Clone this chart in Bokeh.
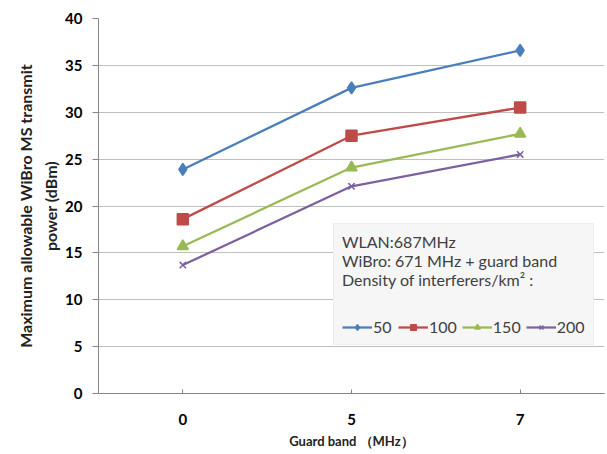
from bokeh.plotting import figure
from bokeh.models import FactorRange, Range1d, Legend, LegendItem, FixedTicker
from bokeh.embed import file_html
from bokeh.resources import INLINE

# Guard band categories (MHz) and max allowable transmit power (dBm) per interferer density
guard_band = ["0", "5", "7"]
density_labels = ["50", "100", "150", "200"]
power_50 = [23.9, 32.6, 36.6]
power_100 = [18.6, 27.5, 30.5]
power_150 = [15.7, 24.1, 27.7]
power_200 = [13.7, 22.1, 25.5]
y_ticks = [0, 5, 10, 15, 20, 25, 30, 35, 40]

FONT = "Lato"

p = figure(
    width=607, height=454,
    x_range=FactorRange(factors=guard_band),
    y_range=Range1d(0, 40),
    output_backend="svg", toolbar_location=None,
    min_border_left=98, min_border_right=3, min_border_top=18, min_border_bottom=61,
)
p.outline_line_color = None
p.background_fill_color = "white"
p.border_fill_color = "white"

# Axes
p.yaxis.ticker = FixedTicker(ticks=y_ticks)
p.yaxis.minor_tick_line_color = None
p.yaxis.major_tick_in = 0
p.yaxis.major_tick_out = 6
p.yaxis.major_label_standoff = 10
p.xaxis.major_tick_in = 4
p.xaxis.major_tick_out = 0
p.xaxis.major_label_standoff = 20
for ax in (p.xaxis, p.yaxis):
    ax.axis_line_color = "#868686"
    ax.major_tick_line_color = "#868686"
    ax.major_label_text_font = FONT
    ax.major_label_text_font_style = "bold"
    ax.major_label_text_font_size = "15px"
    ax.major_label_text_color = "black"
    ax.axis_label_text_font = FONT
    ax.axis_label_text_font_style = "bold"
    ax.axis_label_text_color = "#222222"

p.yaxis.axis_label = "Maximum allowable WiBro MS transmit\npower (dBm)"
p.yaxis.axis_label_text_font_size = "16px"
p.yaxis.axis_label_text_line_height = 1.3
p.yaxis.axis_label_standoff = 2
p.xaxis.axis_label = "Guard band （MHz）"
p.xaxis.axis_label_text_font_size = "13px"
p.xaxis.axis_label_standoff = 5

p.xgrid.grid_line_color = None
p.ygrid.grid_line_color = "#bfbfbf"
p.ygrid.grid_line_width = 1

series = [
    (power_50, "#4a7ebb", "diamond", 12),
    (power_100, "#be4b48", "square", 11),
    (power_150, "#98b954", "triangle", 11),
    (power_200, "#7d60a0", "x", 9),
]

items = []
for label, (vals, color, marker, size) in zip(density_labels, series):
    ln = p.line(guard_band, vals, line_color=color, line_width=2.25)
    mk = p.scatter(guard_band, vals, marker=marker, size=size,
                   fill_color=color, line_color=color, line_width=1.5)
    items.append(LegendItem(label=label, renderers=[ln, mk]))

legend = Legend(
    items=items,
    orientation="horizontal",
    location=(235, 48),
    title="WLAN:687MHz\nWiBro: 671 MHz + guard band\nDensity of interferers/km² :",
    title_text_font=FONT,
    title_text_font_size="16px",
    title_text_color="#404040",
    title_text_font_style="normal",
    title_standoff=28,
    label_text_font=FONT,
    label_text_font_size="16px",
    label_text_color="#404040",
    label_standoff=1,
    glyph_width=30,
    glyph_height=14,
    spacing=5,
    padding=8,
    margin=0,
    background_fill_color="#f6f6f6",
    background_fill_alpha=1.0,
    border_line_color="#e4e4e4",
)
p.add_layout(legend, "center")

open("out.html", "w").write(file_html(p, INLINE))
